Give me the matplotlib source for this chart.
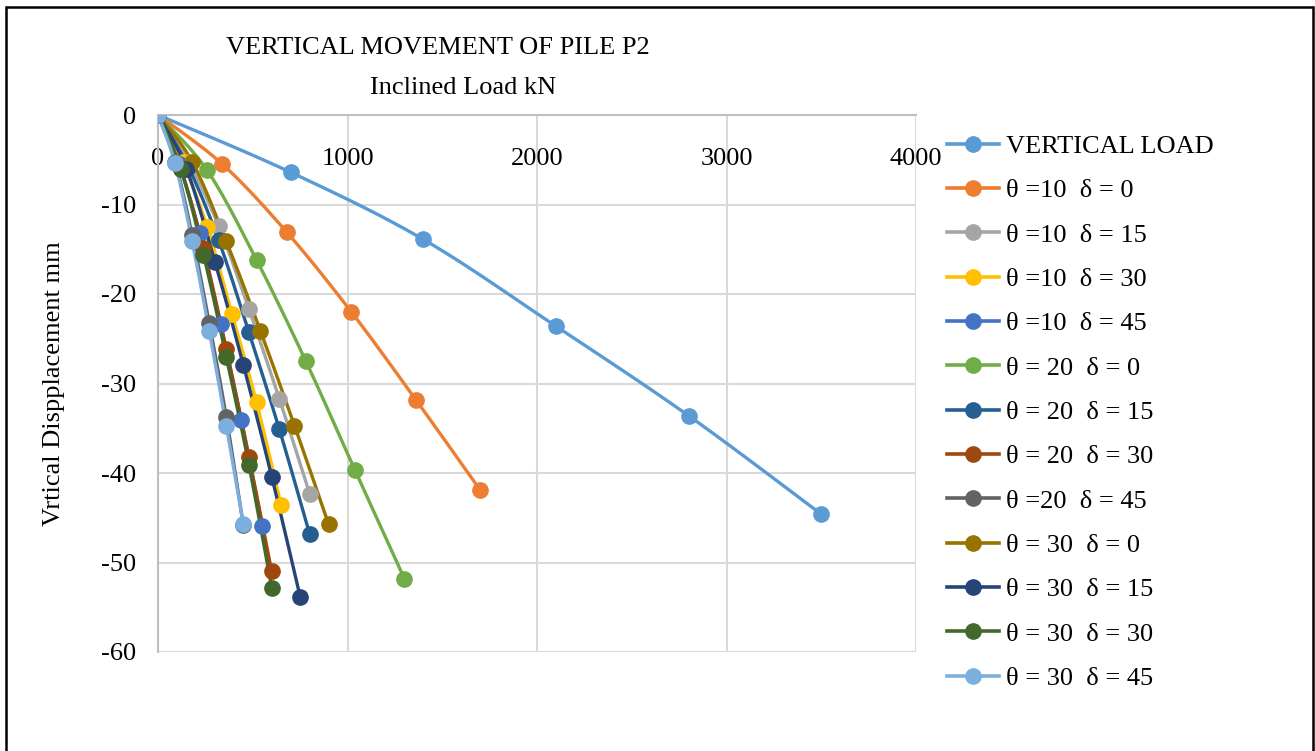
import numpy as np
import matplotlib
matplotlib.use("Agg")
import matplotlib.pyplot as plt
from matplotlib.lines import Line2D

plt.rcParams['font.family'] = ['Liberation Serif', 'DejaVu Serif']
plt.rcParams['axes.unicode_minus'] = False

# load (kN) and vertical displacement (mm) for each case
labels = [
    "VERTICAL LOAD",
    "θ =10  δ = 0",
    "θ =10  δ = 15",
    "θ =10  δ = 30",
    "θ =10  δ = 45",
    "θ = 20  δ = 0",
    "θ = 20  δ = 15",
    "θ = 20  δ = 30",
    "θ =20  δ = 45",
    "θ = 30  δ = 0",
    "θ = 30  δ = 15",
    "θ = 30  δ = 30",
    "θ = 30  δ = 45",
]
loads = [
    [0, 700, 1400, 2100, 2800, 3500],
    [0, 340, 680, 1020, 1360, 1700],
    [0, 160, 320, 480, 640, 800],
    [0, 130, 260, 390, 520, 650],
    [0, 110, 220, 330, 440, 550],
    [0, 260, 520, 780, 1040, 1300],
    [0, 160, 320, 480, 640, 800],
    [0, 120, 240, 360, 480, 600],
    [0, 90, 180, 270, 360, 450],
    [0, 180, 360, 540, 720, 900],
    [0, 150, 300, 450, 600, 750],
    [0, 120, 240, 360, 480, 600],
    [0, 90, 180, 270, 360, 450],
]
disp = [
    [0, -6.4, -13.9, -23.6, -33.6, -44.6],
    [0, -5.5, -13.1, -22.0, -31.8, -41.9],
    [0, -5.2, -12.4, -21.7, -31.7, -42.3],
    [0, -5.3, -12.5, -22.2, -32.1, -43.6],
    [0, -5.5, -13.2, -23.4, -34.1, -45.9],
    [0, -6.2, -16.2, -27.5, -39.7, -51.8],
    [0, -5.8, -14.0, -24.3, -35.1, -46.8],
    [0, -6.0, -14.9, -26.1, -38.2, -51.0],
    [0, -5.2, -13.4, -23.2, -33.7, -45.8],
    [0, -5.2, -14.1, -24.1, -34.7, -45.7],
    [0, -6.0, -16.4, -27.9, -40.4, -53.8],
    [0, -6.0, -15.6, -27.0, -39.1, -52.8],
    [0, -5.4, -14.1, -24.1, -34.7, -45.7],
]
colors = ['#5B9BD5', '#ED7D31', '#A5A5A5', '#FFC000', '#4472C4', '#70AD47',
          '#255E91', '#9E480E', '#636363', '#997300', '#264478', '#43682B',
          '#7CAFDD']

FS = 19


def smooth(x, y, n=24):
    # Catmull-Rom style bezier through the points (like a spreadsheet "smoothed line")
    p = np.column_stack([x, y]).astype(float)
    out = [p[:1]]
    t = np.linspace(0, 1, n)[1:, None]
    for i in range(len(p) - 1):
        p0 = p[max(i - 1, 0)]
        p1, p2 = p[i], p[i + 1]
        p3 = p[min(i + 2, len(p) - 1)]
        c1 = p1 + (p2 - p0) / 6
        c2 = p2 - (p3 - p1) / 6
        seg = ((1 - t) ** 3) * p1 + 3 * ((1 - t) ** 2) * t * c1 + 3 * (1 - t) * t ** 2 * c2 + t ** 3 * p2
        out.append(seg)
    pts = np.vstack(out)
    return pts[:, 0], pts[:, 1]


fig = plt.figure(figsize=(13.15, 7.51), dpi=100)
ax = fig.add_axes([158 / 1315, 1 - 652 / 751, 758 / 1315, 537 / 751])

handles = []
for lab, x, y, c in zip(labels, loads, disp, colors):
    sx, sy = smooth(x, y)
    ax.plot(sx, sy, color=c, lw=2.4, solid_capstyle='round', zorder=2)
    ax.plot(x, y, 'o', color=c, ms=11, mec=c, zorder=3)
    handles.append(Line2D([], [], color=c, lw=2.6, marker='o', ms=11, mec=c))

ax.set_xlim(0, 4000)
ax.set_ylim(-60, 0)
ax.set_xticks([0, 1000, 2000, 3000, 4000])
ax.set_yticks(range(-60, 1, 10))
ax.grid(True, color='#D9D9D9', lw=1.5, zorder=0)
ax.set_axisbelow(True)

for s in ['right', 'bottom']:
    ax.spines[s].set_visible(False)
ax.spines['left'].set_color('#BFBFBF')
ax.spines['left'].set_linewidth(1.5)
ax.spines['top'].set_color('#BFBFBF')
ax.spines['top'].set_linewidth(1.5)

# horizontal axis labels sit just under the zero line
ax.xaxis.set_ticks_position('bottom')
ax.spines['bottom'].set_position(('data', 0))
ax.tick_params(axis='x', length=0, pad=24, labelsize=FS)
ax.tick_params(axis='y', length=0, pad=16, labelsize=FS)

ax.set_ylabel("Vrtical Dispplacement mm", fontsize=FS)
ax.yaxis.set_label_coords(-0.123, 0.5)

fig.text(438 / 1315, 1 - 48 / 751, "VERTICAL MOVEMENT OF PILE P2",
         ha='center', va='center', fontsize=FS)
fig.text(463 / 1315, 1 - 88 / 751, "Inclined Load kN",
         ha='center', va='center', fontsize=FS)

fig.legend(handles, labels, loc='upper left', bbox_to_anchor=(936 / 1315, 1 - 124 / 751),
           frameon=False, fontsize=FS, handlelength=2.0, handletextpad=0.25,
           labelspacing=0.79, borderaxespad=0)

fig.add_artist(plt.Rectangle((6 / 1315, -0.01), 1307 / 1315, 1.01 - 7 / 751,
                             transform=fig.transFigure, fill=False,
                             edgecolor='black', lw=1.8))

fig.savefig("out.png", dpi=100)
